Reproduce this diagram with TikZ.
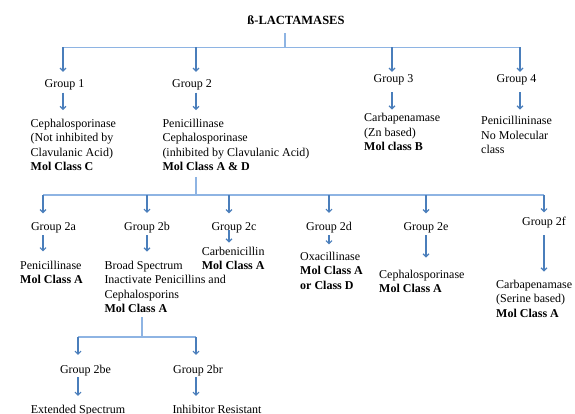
\documentclass[tikz,border=0pt]{standalone}
\usepackage{fontspec}
\setmainfont{Liberation Serif}
\usetikzlibrary{arrows.meta}
\definecolor{lineblue}{HTML}{8EB4E3}
\definecolor{arrblue}{HTML}{4A7EBB}
\begin{document}
\begin{tikzpicture}[x=1pt,y=-1pt,
  lbl/.style={inner sep=0pt, anchor=base, font=\fontsize{12}{14.5}\selectfont},
  desc/.style={inner sep=0pt, anchor=base west, align=left, font=\fontsize{12}{14.5}\selectfont},
  bus/.style={draw=lineblue, line width=1.1pt},
  arr/.style={draw=arrblue, line width=1.2pt, -{Straight Barb[length=3pt,width=6pt]}}]
\useasboundingbox (0,0) rectangle (575,414);
\clip (0,0) rectangle (575,414);
% title and first bus
\node[lbl, font=\bfseries\fontsize{12.5}{15}\selectfont] (title) at (296,25) {ß-LACTAMASES};
\coordinate (top) at (285,47.5);
\coordinate (b1) at (63,47.5);
\coordinate (b2) at (196,47.5);
\coordinate (b3) at (392,47.5);
\coordinate (b4) at (520,47.5);
\draw[bus, shorten <=8pt] (top |- title.south) -- (top);
\draw[bus] (b1) -- (b4);
% groups
\node[lbl] (g1) at (64.5,87.5) {Group 1};
\node[lbl] (g2) at (192,87.5) {Group 2};
\node[lbl] (g3) at (393.5,83) {Group 3};
\node[lbl] (g4) at (516.5,83) {Group 4};
\draw[arr, shorten >=7.5pt] (b1) -- (b1 |- g1.north);
\draw[arr, shorten >=7.5pt] (b2) -- (b2 |- g2.north);
\draw[arr, shorten >=3pt] (b3) -- (b3 |- g3.north);
\draw[arr, shorten >=3pt] (b4) -- (b4 |- g4.north);
% descriptions level 1 (anchored at the baseline of the last line)
\node[desc] (d1) at (30.5,171) {Cephalosporinase\\(Not inhibited by\\Clavulanic Acid)\\\textbf{Mol Class C}};
\node[desc] (d2) at (162.3,171) {Penicillinase\\Cephalosporinase\\(inhibited by Clavulanic Acid)\\\textbf{Mol Class A \& D}};
\node[desc] (d3) at (364,151) {Carbapenamase\\(Zn based)\\\textbf{Mol class B}};
\node[desc] (d4) at (481,154) {Penicillininase\\No Molecular\\class};
\draw[arr, shorten <=2.4pt, shorten >=8.8pt] (b1 |- g1.south) -- (b1 |- d1.north);
\draw[arr, shorten <=2.4pt, shorten >=8.8pt] (b2 |- g2.south) -- (b2 |- d2.north);
\draw[arr, shorten <=6.4pt, shorten >=3.8pt] (b3 |- g3.south) -- (b3 |- d3.north);
\draw[arr, shorten <=6.4pt, shorten >=6.8pt] (b4 |- g4.south) -- (b4 |- d4.north);
% second bus
\coordinate (a2a) at (43,195);
\coordinate (a2b) at (147,195);
\coordinate (a2c) at (229,195);
\coordinate (a2d) at (329,195);
\coordinate (a2e) at (426,195);
\coordinate (a2f) at (544,195);
\draw[bus, shorten <=5.5pt] (b2 |- d2.south) -- (b2 |- a2a);
\draw[bus] (a2a) -- (a2f);
% subgroups
\node[lbl] (g2a) at (53.5,230.5) {Group 2a};
\node[lbl] (g2b) at (147,230.5) {Group 2b};
\node[lbl] (g2c) at (234,230.5) {Group 2c};
\node[lbl] (g2d) at (329,230.5) {Group 2d};
\node[lbl] (g2e) at (426,230.5) {Group 2e};
\node[lbl] (g2f) at (544,225.5) {Group 2f};
\foreach \n in {a,b,c,d,e}{
  \draw[arr, shorten >=9pt] (a2\n) -- (a2\n |- g2\n.north);
}
\draw[arr, shorten >=4.4pt] (a2f) -- (a2f |- g2f.north);
% subgroup descriptions (anchored at the baseline of the last line)
\node[desc] (d2a) at (20,283.5) {Penicillinase\\\textbf{Mol Class A}};
\node[desc] (d2b) at (104.3,312.5) {Broad Spectrum\\Inactivate Penicillins and\\Cephalosporins\\\textbf{Mol Class A}};
\node[desc] (d2c) at (201.7,269.5) {Carbenicillin\\\textbf{Mol Class A}};
\node[desc] (d2d) at (300,289) {Oxacillinase\\\textbf{Mol Class A}\\\textbf{or Class D}};
\node[desc] (d2e) at (379,292.5) {Cephalosporinase\\\textbf{Mol Class A}};
\node[desc] (d2f) at (496,317) {Carbapenamase\\(Serine based)\\\textbf{Mol Class A}};
\draw[arr, shorten <=2pt, shorten >=9pt] (a2a |- g2a.south) -- (a2a |- d2a.north);
\draw[arr, shorten <=2pt, shorten >=8.8pt] (a2b |- g2b.south) -- (a2b |- d2b.north);
\draw[arr, shorten <=-3pt, shorten >=3.8pt] (a2c |- g2c.south) -- (a2c |- d2c.north);
\draw[arr, shorten <=2pt, shorten >=7pt] (a2d |- g2d.south) -- (a2d |- d2d.north);
\draw[arr, shorten <=2pt, shorten >=11.8pt] (a2e |- g2e.south) -- (a2e |- d2e.north);
\draw[arr, shorten <=7pt, shorten >=7.8pt] (a2f |- g2f.south) -- (a2f |- d2f.north);
% third bus
\coordinate (a3) at (142,337);
\coordinate (a3be) at (78,337);
\coordinate (a3br) at (196,337);
\draw[bus, shorten <=4.5pt] (a3 |- d2b.south) -- (a3);
\draw[bus] (a3be) -- (a3br);
\node[lbl] (g2be) at (85.5,373.5) {Group 2be};
\node[lbl] (g2br) at (198,373.5) {Group 2br};
\draw[arr, shorten >=10pt] (a3be) -- (a3be |- g2be.north);
\draw[arr, shorten >=10pt] (a3br) -- (a3br |- g2br.north);
\node[desc] (d2be) at (30.7,413.5) {Extended Spectrum};
\node[desc] (d2br) at (172.3,413.5) {Inhibitor Resistant};
\draw[arr, shorten <=1pt, shorten >=9pt] (a3be |- g2be.south) -- (a3be |- d2be.north);
\draw[arr, shorten <=1pt, shorten >=9pt] (a3br |- g2br.south) -- (a3br |- d2br.north);
\end{tikzpicture}
\end{document}
